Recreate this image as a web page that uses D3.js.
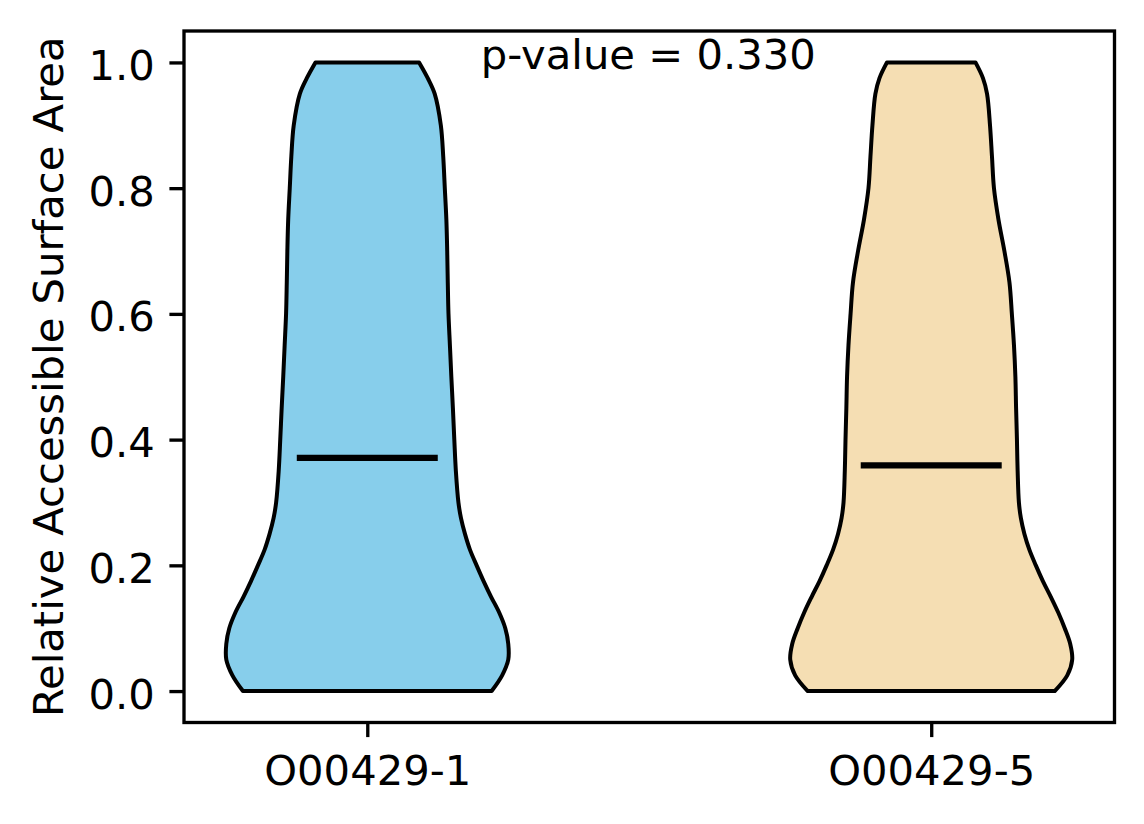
<!DOCTYPE html>
<html>
<head>
<meta charset="utf-8">
<script src="https://cdn.jsdelivr.net/npm/d3@7"></script>
<style>
  html, body { margin: 0; padding: 0; background: #ffffff; }
  svg { display: block; }
  text { font-family: "DejaVu Sans", sans-serif; fill: #000; }
</style>
</head>
<body>
<svg id="chart" width="1144" height="824"></svg>
<script>
// ---- data ----
const categories = ["O00429-1", "O00429-5"];
const positions = [1, 2];
const fillColors = ["#87CEEB", "#F5DEB3"];
const medians = [0.371, 0.359];
const pValueLabel = "p-value = 0.330";
const yTicks = [0.0, 0.2, 0.4, 0.6, 0.8, 1.0];
const yLabel = "Relative Accessible Surface Area";

// evaluation grid for the violin outlines (RSA values)
const gridValues = [0, 0.025, 0.05, 0.075, 0.1, 0.125, 0.15, 0.175, 0.2, 0.225, 0.25, 0.275,
  0.3, 0.35, 0.4, 0.45, 0.5, 0.55, 0.6, 0.65, 0.7, 0.75, 0.8, 0.85, 0.9, 0.95, 0.975, 1.0];
// relative kernel density (1 = widest point) for each group
const densityGroup1 = [0.876, 0.950, 0.993, 0.993, 0.972, 0.929, 0.872, 0.819, 0.770, 0.723, 0.688, 0.660,
  0.642, 0.624, 0.613, 0.603, 0.592, 0.582, 0.572, 0.567, 0.563, 0.557, 0.546, 0.535, 0.518, 0.475, 0.426, 0.365];
const densityGroup2 = [0.876, 0.965, 1.000, 0.986, 0.947, 0.901, 0.848, 0.792, 0.742, 0.696, 0.661, 0.636,
  0.622, 0.613, 0.608, 0.602, 0.597, 0.587, 0.572, 0.555, 0.519, 0.477, 0.445, 0.431, 0.417, 0.396, 0.367, 0.314];
const densities = [densityGroup1, densityGroup2];

// ---- layout ----
const svg = d3.select("#chart");
const margin = { left: 184, right: 1144 - 1114.5, top: 31, bottom: 824 - 722.5 };
const W = 1144, H = 824;
const plotL = margin.left, plotR = W - margin.right, plotT = margin.top, plotB = H - margin.bottom;

const violinWidth = 0.5;
const x = d3.scaleLinear().domain([0.675, 2.325]).range([plotL, plotR]);
const y = d3.scaleLinear().domain([-0.05, 1.05]).range([plotB, plotT]);

svg.append("rect").attr("width", W).attr("height", H).attr("fill", "#fff");

// ---- violins ----
const gV = svg.append("g");
positions.forEach((pos, i) => {
  const dens = densities[i];
  const maxD = d3.max(dens);
  const half = d3.scaleLinear().domain([0, maxD]).range([0, violinWidth / 2]);
  const pts = gridValues.map((v, k) => ({ v, d: dens[k] }));
  const area = d3.area()
    .y(p => y(p.v))
    .x0(p => x(pos - half(p.d)))
    .x1(p => x(pos + half(p.d)))
    .curve(d3.curveCatmullRom.alpha(0.5));
  gV.append("path")
    .datum(pts)
    .attr("d", area)
    .attr("fill", fillColors[i])
    .attr("stroke", "#000")
    .attr("stroke-width", 4)
    .attr("stroke-linejoin", "round");
  // median
  gV.append("line")
    .attr("x1", x(pos - violinWidth / 4))
    .attr("x2", x(pos + violinWidth / 4))
    .attr("y1", y(medians[i]))
    .attr("y2", y(medians[i]))
    .attr("stroke", "#000")
    .attr("stroke-width", 6.25);
});

// ---- axes ----
const tickLen = 14.6, tickPad = 14.6, lw = 3.33, fs = 41.7;
const yAxis = d3.axisLeft(y).tickValues(yTicks).tickFormat(d3.format(".1f"))
  .tickSize(tickLen).tickPadding(tickPad);
const gy = svg.append("g").attr("transform", `translate(${plotL},0)`).call(yAxis);
gy.select(".domain").remove();
gy.selectAll(".tick line").attr("stroke", "#000").attr("stroke-width", lw);
gy.selectAll(".tick text").attr("font-size", fs).attr("font-family", "DejaVu Sans")
  .attr("dy", null).attr("dominant-baseline", "auto").attr("y", 17);

const xAxis = d3.axisBottom(x).tickValues(positions).tickFormat((d, i) => categories[i])
  .tickSize(tickLen).tickPadding(tickPad);
const gx = svg.append("g").attr("transform", `translate(0,${plotB})`).call(xAxis);
gx.select(".domain").remove();
gx.selectAll(".tick line").attr("stroke", "#000").attr("stroke-width", lw);
gx.selectAll(".tick text").attr("font-size", fs).attr("font-family", "DejaVu Sans")
  .attr("dy", null).attr("dominant-baseline", "auto").attr("y", 62);

// frame (spines)
svg.append("rect")
  .attr("x", plotL).attr("y", plotT)
  .attr("width", plotR - plotL).attr("height", plotB - plotT)
  .attr("fill", "none").attr("stroke", "#000").attr("stroke-width", lw);

// y label
svg.append("text")
  .attr("transform", `translate(63,${(plotT + plotB) / 2}) rotate(-90)`)
  .attr("text-anchor", "middle")
  .attr("font-size", fs)
  .text(yLabel);

// p-value annotation
svg.append("text")
  .attr("x", x(1.5) - 1)
  .attr("y", y(0.99))
  .attr("text-anchor", "middle")
  .attr("font-size", fs)
  .text(pValueLabel);
</script>
</body>
</html>
